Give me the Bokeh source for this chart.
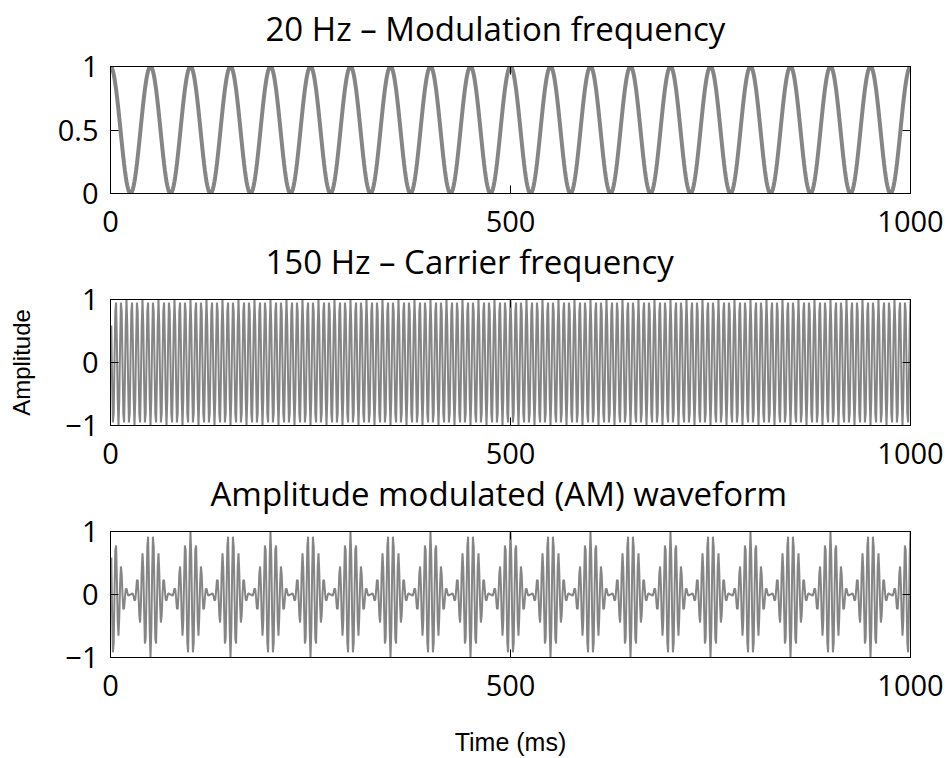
import numpy as np
from bokeh.plotting import figure
from bokeh.layouts import column
from bokeh.models import (Range1d, LinearAxis, FixedTicker, ColumnDataSource,
                          CustomLabelingPolicy)
from bokeh.embed import file_html
from bokeh.resources import INLINE

# ---- data ----
MOD_FREQ_HZ = 20
CARRIER_FREQ_HZ = 150
SAMPLE_STEP_MS = 1
DURATION_MS = 1000
titles = ["20 Hz \u2013 Modulation frequency",
          "150 Hz \u2013 Carrier frequency",
          "Amplitude modulated (AM) waveform"]
x_ticks = [0, 500, 1000]
x_tick_labels = ["0", "500", "1000"]
y_ticks_mod = [0, 0.5, 1]
y_tick_labels_mod = ["0", "0.5", "1"]
y_ticks_sig = [-1, 0, 1]
y_tick_labels_sig = ["\u22121", "0", "1"]

t_ms = np.arange(SAMPLE_STEP_MS, DURATION_MS + SAMPLE_STEP_MS, SAMPLE_STEP_MS)
modulation = 0.5 + 0.5 * np.cos(2 * np.pi * MOD_FREQ_HZ * t_ms / 1000.0)
carrier = np.cos(2 * np.pi * CARRIER_FREQ_HZ * t_ms / 1000.0)
am_wave = modulation * carrier

TICK_FONT = "Open Sans"
LINE_COLOR = "#858585"


def make_panel(height, top, bottom, y_range, y_ticks, y_labels, title, title_offset,
               y, lw, ylabel=None, xlabel=None, margin_top=0):
    p = figure(width=950, height=height, min_border_left=110, min_border_right=40,
               min_border_top=top, min_border_bottom=bottom,
               x_range=Range1d(0, 1000), y_range=Range1d(*y_range),
               output_backend="svg", toolbar_location=None, title=title)
    p.title.align = "left"
    p.title.offset = title_offset
    p.title.text_font = TICK_FONT
    p.title.text_font_size = "33px"
    p.title.text_font_style = "normal"
    p.title.text_color = "black"
    p.title.standoff = 32
    p.grid.visible = False
    p.outline_line_color = "black"
    p.outline_line_width = 1
    p.background_fill_color = "white"
    p.border_fill_color = None
    p.margin = (margin_top, 0, 0, 0)

    xa = p.xaxis[0]
    xa.ticker = FixedTicker(ticks=x_ticks)
    xa.major_label_overrides = {k: v for k, v in zip(x_ticks, x_tick_labels)}
    ya = p.yaxis[0]
    ya.ticker = FixedTicker(ticks=y_ticks)
    ya.major_label_overrides = {k: v for k, v in zip(y_ticks, y_labels)}
    for ax in (xa, ya):
        ax.major_tick_in = 8
        ax.major_tick_out = 0
        ax.minor_tick_line_color = None
        ax.major_label_text_font = TICK_FONT
        ax.major_label_text_font_size = "29px"
        ax.major_label_text_color = "black"
        ax.axis_line_color = "black"
        ax.major_tick_line_color = "black"
    xa.major_label_standoff = 17
    ya.major_label_standoff = 12

    no_labels = CustomLabelingPolicy(code="return new Set()")
    top_ax = LinearAxis(ticker=FixedTicker(ticks=x_ticks), major_label_text_font_size="0px",
                        major_tick_in=8, major_tick_out=0, minor_tick_line_color=None,
                        major_label_standoff=0, axis_line_color="black",
                        major_label_policy=no_labels)
    right_ax = LinearAxis(ticker=FixedTicker(ticks=y_ticks), major_label_text_font_size="0px",
                          major_tick_in=8, major_tick_out=0, minor_tick_line_color=None,
                          major_label_standoff=0, axis_line_color="black",
                          major_label_policy=no_labels)
    p.add_layout(top_ax, "above")
    p.add_layout(right_ax, "right")

    if ylabel:
        ya.axis_label = ylabel
        ya.axis_label_text_font = "Liberation Sans"
        ya.axis_label_text_font_size = "24px"
        ya.axis_label_text_font_style = "normal"
        ya.axis_label_text_color = "black"
        ya.axis_label_standoff = 27
    if xlabel:
        xa.axis_label = xlabel
        xa.axis_label_text_font = "Liberation Sans"
        xa.axis_label_text_font_size = "25px"
        xa.axis_label_text_font_style = "normal"
        xa.axis_label_text_color = "black"
        xa.axis_label_standoff = 29

    src = ColumnDataSource(dict(x=t_ms, y=y))
    p.line("x", "y", source=src, line_color=LINE_COLOR, line_width=lw)
    return p


p1 = make_panel(271, 84, 60, (0, 1), y_ticks_mod, y_tick_labels_mod, titles[0], 155,
                modulation, 4, margin_top=-18)
p2 = make_panel(270, 84, 60, (-1, 1), y_ticks_sig, y_tick_labels_sig, titles[1], 155,
                carrier, 2, ylabel="Amplitude", margin_top=-38)
p3 = make_panel(311, 84, 101, (-1, 1), y_ticks_sig, y_tick_labels_sig, titles[2], 100,
                am_wave, 2, xlabel="Time (ms)", margin_top=-38)

layout = column(p1, p2, p3, spacing=0)

open("out.html", "w").write(file_html(layout, INLINE))
